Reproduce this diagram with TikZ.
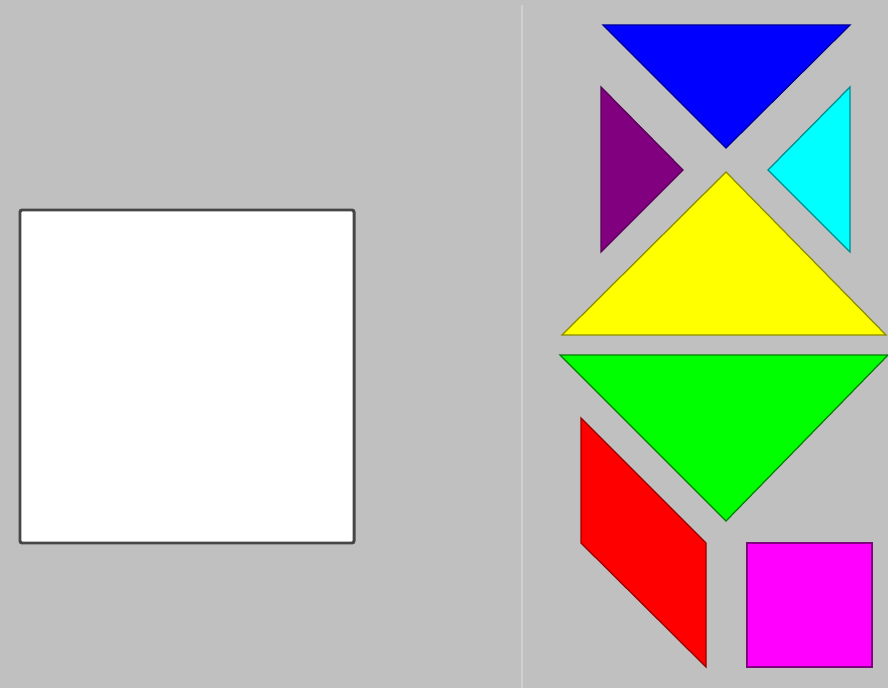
\documentclass[tikz,border=0pt]{standalone}
\usepackage{xcolor}
\usepackage{tikz}
\definecolor{boardgray}{RGB}{192,192,192}
\definecolor{splitgray}{RGB}{208,208,208}
\definecolor{framegray}{RGB}{70,70,70}
\definecolor{tanblue}{RGB}{0,0,255}
\definecolor{tanpurple}{RGB}{128,0,128}
\definecolor{tancyan}{RGB}{0,255,255}
\definecolor{tanyellow}{RGB}{255,255,0}
\definecolor{tangreen}{RGB}{0,255,0}
\definecolor{tanred}{RGB}{255,0,0}
\definecolor{tanmagenta}{RGB}{255,0,255}

\begin{document}
\begin{tikzpicture}[
    x=0.01cm, y=-0.01cm,
    piece/.style={line width=0.35pt, line join=miter},
    blu/.style={piece, fill=tanblue, draw=tanblue!60!black},
    pur/.style={piece, fill=tanpurple, draw=tanpurple!70!black},
    cya/.style={piece, fill=tancyan, draw=tancyan!55!black},
    yel/.style={piece, fill=tanyellow, draw=tanyellow!55!black},
    gre/.style={piece, fill=tangreen, draw=tangreen!50!black},
    rd/.style={piece, fill=tanred, draw=tanred!60!black},
    mag/.style={piece, fill=tanmagenta, draw=tanmagenta!50!black}
]
% --- Board ---
\fill[boardgray] (0,0) rectangle (888,688);
\useasboundingbox (0,0) rectangle (888,688);
\draw[splitgray, line width=0.7pt] (522,5) -- (522,688);

% --- Target square ---
\draw[framegray, fill=white, line width=0.85pt, rounded corners=0.6pt]
    (20,210) rectangle (354,543);

% --- Pieces ---
\draw[blu] (603,25) -- (850,25) -- (726,148) -- cycle;
\draw[pur] (601,87) -- (683,170) -- (601,252) -- cycle;
\draw[cya] (850,87) -- (768,170) -- (850,252) -- cycle;
\draw[yel] (726,172) -- (886,335) -- (562,335) -- cycle;
\draw[gre] (560,355) -- (888,355) -- (726,521) -- cycle;
\draw[rd] (581,418) -- (706,543) -- (706,667) -- (581,543) -- cycle;
\draw[mag] (747,543) rectangle (872,667);

\end{tikzpicture}
\end{document}
